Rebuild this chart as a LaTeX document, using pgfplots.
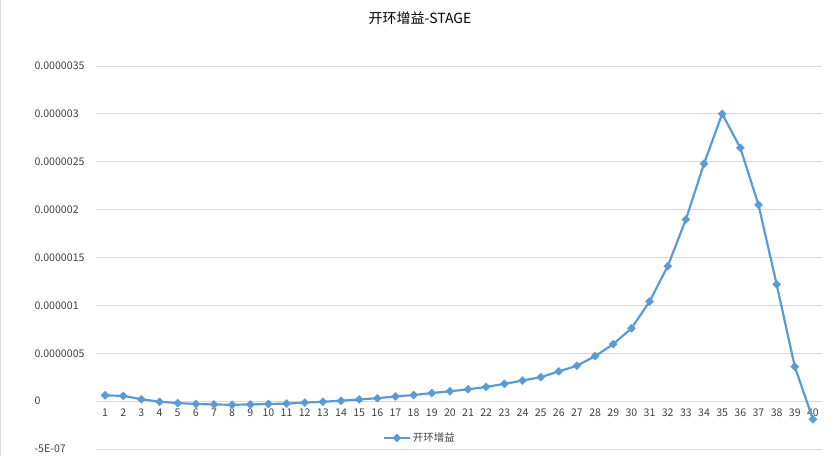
\documentclass[border=0pt]{standalone}
\usepackage{fontspec}
\setmainfont{Noto Sans CJK SC}
\usepackage{pgfplots}
\pgfplotsset{compat=1.18}
\definecolor{xlblue}{HTML}{5B9BD5}
\definecolor{xlgrid}{HTML}{D9D9D9}
\definecolor{xltext}{HTML}{404040}
\begin{document}
\begin{tikzpicture}[x=1bp,y=1bp]
\path[use as bounding box] (0,0) rectangle (840,456);
\draw[xlgrid] (0.5,0) -- (0.5,456);
\node[font=\fontsize{14bp}{16bp}\selectfont, text=black] at (420,438) {开环增益-STAGE};
\begin{axis}[
  at={(96bp,7bp)}, anchor=south west,
  scale only axis, width=726bp, height=383bp,
  xmin=0.5, xmax=40.5, ymin=-0.5e-6, ymax=3.5e-6,
  xtick={1,...,40},
  ytick={-0.5e-6,0,0.5e-6,1e-6,1.5e-6,2e-6,2.5e-6,3e-6,3.5e-6},
  yticklabels={-5E-07,0,0.0000005,0.000001,0.0000015,0.000002,0.0000025,0.000003,0.0000035},
  scaled y ticks=false,
  /pgf/number format/assume math mode=true,
  ymajorgrids, grid style={xlgrid, line width=0.8bp},
  axis line style={draw=none}, major tick style={draw=none},
  tick label style={font=\fontsize{10.6bp}{12bp}\selectfont, text=xltext},
  yticklabel style={anchor=west, xshift=-65bp},
  xticklabel style={yshift=44bp},
  legend style={at={(rel axis cs:0.446,0.029)}, anchor=center, draw=none, fill=none,
    font=\fontsize{10.5bp}{12bp}\selectfont, text=xltext},
  legend image code/.code={\draw[#1, mark repeat=2, mark phase=2] plot coordinates {(0bp,0bp) (13bp,0bp) (26bp,0bp)};},
  clip=false,
]
\addplot[xlblue, line width=2.2bp, mark=square*, mark size=2.8bp, mark options={rotate=45, fill=xlblue, draw=xlblue, line width=0.5bp}] table {
x y
1 0.06e-6
2 0.055e-6
3 0.02e-6
4 -0.007e-6
5 -0.02e-6
6 -0.03e-6
7 -0.035e-6
8 -0.038e-6
9 -0.035e-6
10 -0.03e-6
11 -0.026e-6
12 -0.016e-6
13 -0.007e-6
14 0.004e-6
15 0.018e-6
16 0.03e-6
17 0.049e-6
18 0.063e-6
19 0.084e-6
20 0.103e-6
21 0.123e-6
22 0.148e-6
23 0.18e-6
24 0.215e-6
25 0.25e-6
26 0.31e-6
27 0.37e-6
28 0.47e-6
29 0.595e-6
30 0.76e-6
31 1.04e-6
32 1.41e-6
33 1.897e-6
34 2.48e-6
35 3.0e-6
36 2.645e-6
37 2.05e-6
38 1.22e-6
39 0.36e-6
40 -0.19e-6
};
\addlegendentry{开环增益}
\end{axis}
\end{tikzpicture}
\end{document}
